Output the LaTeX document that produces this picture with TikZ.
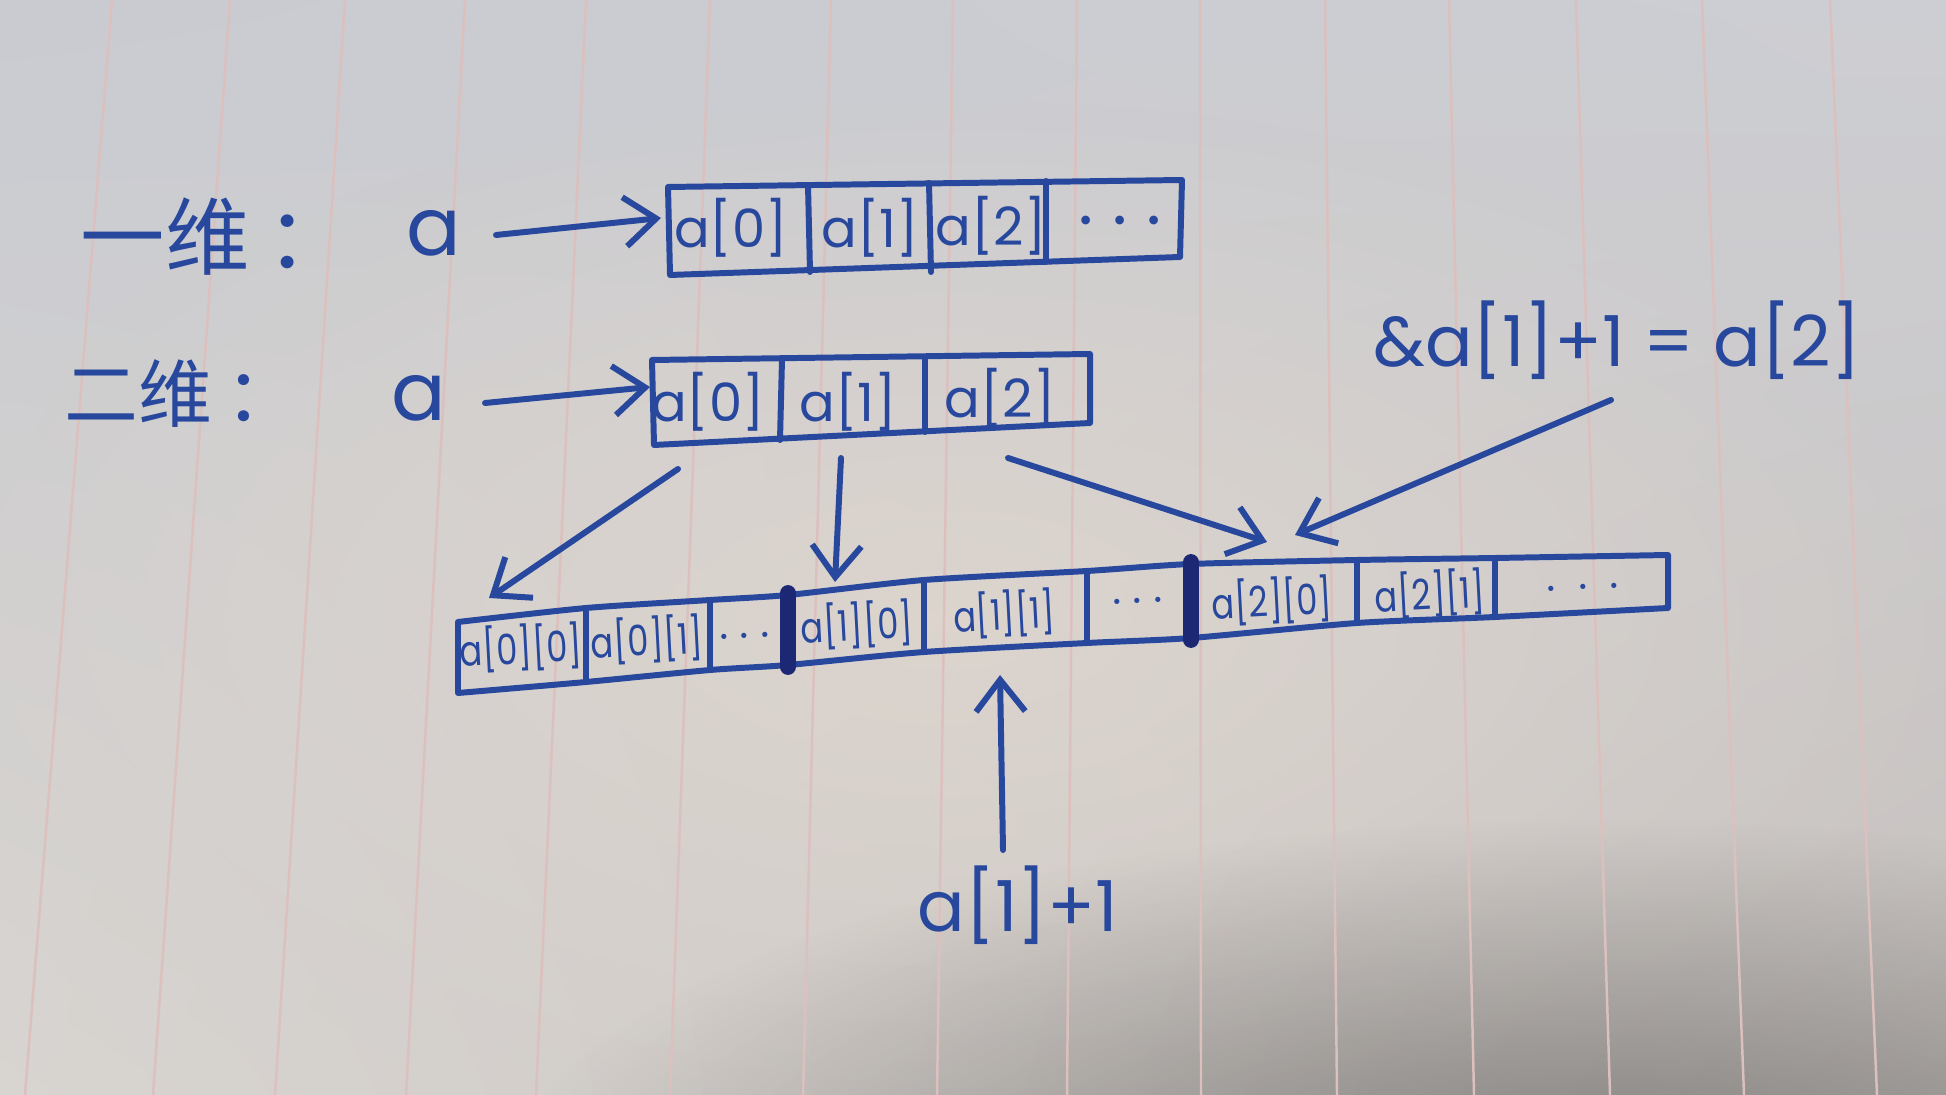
\documentclass[tikz,border=0pt]{standalone}
\usepackage{fontspec}
\usepackage{graphicx}
\setmainfont{Poppins}
\newfontfamily\cjk{Noto Sans CJK SC}
\usetikzlibrary{arrows.meta,fadings,shadings}
\tikzfading[name=softglow, inner color=transparent!0, outer color=transparent!100]
\newcommand{\narrowtxt}[1]{\scalebox{0.8}[1]{#1}}
\definecolor{ink}{RGB}{40,72,158}
\definecolor{inkdark}{RGB}{28,40,115}
\definecolor{rulec}{RGB}{220,192,190}
\definecolor{pUL}{RGB}{201,203,209}
\definecolor{pUR}{RGB}{205,206,211}
\definecolor{pLL}{RGB}{216,212,208}
\definecolor{pLR}{RGB}{200,194,190}
\definecolor{warm}{RGB}{224,215,206}
\begin{document}
\begin{tikzpicture}[x=0.01cm,y=-0.01cm,
  pen/.style={draw=ink,line width=1.7pt,line cap=round,line join=round},
  thickdiv/.style={draw=inkdark,line width=4.5pt,line cap=round},
  arr/.style={pen,-{Straight Barb[length=9pt,width=14pt]}},
  cell/.style={text=ink,inner sep=0pt,font=\fontsize{15}{17}\selectfont},
  dots/.style={text=ink,inner sep=0pt,font=\fontsize{20}{22}\selectfont},
  small/.style={text=ink,inner sep=0pt,rotate=3,font=\fontsize{12}{14}\selectfont},
  bigA/.style={text=ink,inner sep=0pt,font=\fontsize{23}{26}\selectfont},
  cjkl/.style={text=ink,inner sep=0pt,font=\cjk\fontsize{24}{27}\selectfont},
  cjks/.style={text=ink,inner sep=0pt,font=\cjk\fontsize{21}{24}\selectfont},
  note/.style={text=ink,inner sep=0pt,font=\fontsize{20}{22}\selectfont}]
% paper
\useasboundingbox (0,0) rectangle (1946,1095);
\shade[upper left=pUL,upper right=pUR,lower left=pLL,lower right=pLR] (0,0) rectangle (1946,1095);
\fill[warm,opacity=0.8,path fading=softglow] (950,620) ellipse [x radius=1050, y radius=520];
\fill[black!75,opacity=0.55,path fading=softglow] (1600,1200) ellipse [x radius=1100, y radius=380];
\foreach \t/\b in {112/25,230/153,345/275,465/406,586/536,710/670,831/803,953/937,1077/1067,1200/1201,1325/1337,1449/1474,1576/1610,1702/1744,1830/1877}
  \draw[rulec,line width=0.7pt] (\t,0) -- (\b,1095);

% labels
\node[cjkl] (l1) at (216,237) {一维\kern5pt：};
\node[cjks] (l2) at (182,394) {二维\kern4pt：};
\node[bigA] (a1) at (434,233) {a};
\node[bigA] (a2) at (419,398) {a};

% top array
\draw[pen] (668,187) -- (1182,180) -- (1180,257) -- (670,275) -- cycle;
\draw[pen] (808,185) -- (810,272);
\draw[pen] (929,183) -- (931,272);
\draw[pen] (1046,181) -- (1046,262);
\node[cell] (t0) at (731,228) {a[0]};
\node[cell] (t1) at (870,228) {a[1]};
\node[cell] (t2) at (991,226) {a[2]};
\node[dots] (t3) at (1120,230) {· · ·};

% middle array
\draw[pen] (652,360) -- (1090,354) -- (1090,423) -- (654,445) -- cycle;
\draw[pen] (782,359) -- (780,440);
\draw[pen] (925,357) -- (925,432);
\node[cell] (m0) at (708,402) {a[0]};
\node[cell] (m1) at (848,402) {a[1]};
\node[cell] (m2) at (1000,398) {a[2]};

% bottom array
\draw[pen] plot[smooth,tension=0.4] coordinates {(458,622) (586,608) (710,600) (788,595) (924,580) (1087,571) (1191,564) (1357,560) (1495,558) (1668,555)}
  -- (1668,608)
  -- plot[smooth,tension=0.4] coordinates {(1668,608) (1495,617) (1357,623) (1191,638) (1087,643) (924,652) (788,665) (710,670) (586,682) (458,693)}
  -- cycle;
\draw[pen] (586,608) -- (586,682);
\draw[pen] (710,600) -- (710,670);
\draw[pen] (924,580) -- (924,652);
\draw[pen] (1087,571) -- (1087,643);
\draw[pen] (1357,560) -- (1357,623);
\draw[pen] (1495,558) -- (1495,617);
\draw[thickdiv] (788,593) -- (788,667);
\draw[thickdiv] (1191,562) -- (1191,640);
\node[small] (b0) at (521,648) {\narrowtxt{a[0][0]}};
\node[small] (b1) at (647,640) {\narrowtxt{a[0][1]}};
\node[small] (b2) at (745,642) {· · ·};
\node[small] (b3) at (857,625) {\narrowtxt{a[1][0]}};
\node[small] (b4) at (1004,614) {\narrowtxt{a[1][1]}};
\node[small] (b5) at (1138,607) {· · ·};
\node[small] (b6) at (1272,601) {\narrowtxt{a[2][0]}};
\node[small] (b7) at (1430,594) {\narrowtxt{a[2][1]}};
\node[small] (b8) at (1583,593) {·~~·~~·};

% notes
\node[note] (n1) at (1617,340) {\&a[1]+1 = a[2]};
\node[note] (n2) at (1018,905) {a[1]+1};

% connectors
\coordinate (s1) at (496,235); \coordinate (e1) at (661,218);
\coordinate (s2) at (485,403); \coordinate (e2) at (650,387);
\coordinate (s3) at (678,469); \coordinate (e3) at (489,598);
\coordinate (s4) at (841,458); \coordinate (e4) at (835,582);
\coordinate (s5) at (1008,458); \coordinate (e5) at (1267,542);
\coordinate (s6) at (1611,400); \coordinate (e6) at (1295,535);
\coordinate (s7) at (1003,850); \coordinate (e7) at (1000,675);
\draw[arr] (s1) -- (e1);
\draw[arr] (s2) -- (e2);
\draw[arr] (s3) -- (e3);
\draw[arr] (s4) -- (e4);
\draw[arr] (s5) -- (e5);
\draw[arr] (s6) -- (e6);
\draw[arr] (s7) -- (e7);
\end{tikzpicture}
\end{document}
